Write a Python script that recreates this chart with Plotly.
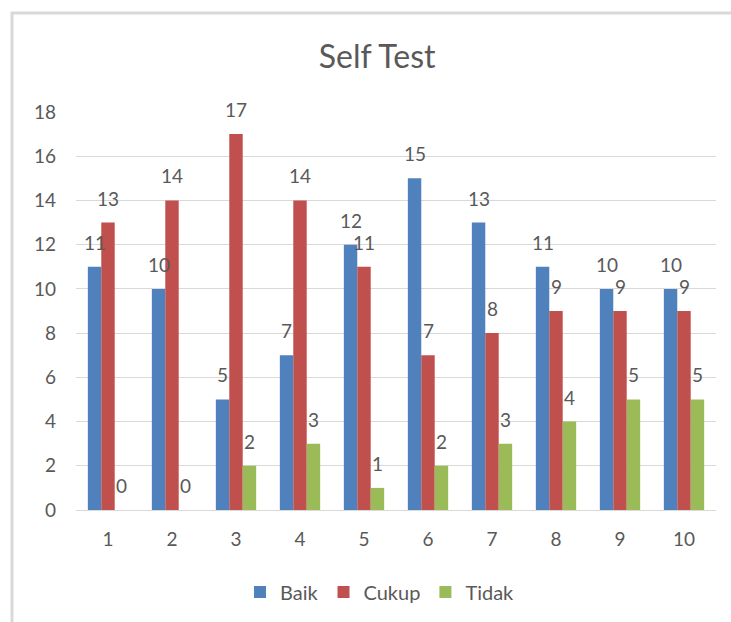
import plotly.graph_objects as go

# Self-test results per item
categories = ["1", "2", "3", "4", "5", "6", "7", "8", "9", "10"]
baik = [11, 10, 5, 7, 12, 15, 13, 11, 10, 10]
cukup = [13, 14, 17, 14, 11, 7, 8, 9, 9, 9]
tidak = [0, 0, 2, 3, 1, 2, 3, 4, 5, 5]

series = [
    ("Baik", baik, "#4F81BD"),
    ("Cukup", cukup, "#C0504D"),
    ("Tidak", tidak, "#9BBB59"),
]

FONT = "Lato, Open Sans, sans-serif"
GREY = "#595959"

W, H = 731, 622
L, R, T, B = 76, 15, 112, 112
pw, ph = W - L - R, H - T - B
BARGAP = 0.37
# pixel width of one bar inside a group of three
bar_px = pw / len(categories) * (1 - BARGAP) / len(series)


def px_x(x):
    return (x - L) / pw


def px_y(y):
    return (H - B - y) / ph


fig = go.Figure()
annotations = []
for i, (name, vals, color) in enumerate(series):
    fig.add_trace(go.Bar(
        name=name,
        x=categories,
        y=vals,
        marker=dict(color=color, line=dict(width=0)),
    ))
    # value labels sitting above each bar (x given as category index)
    for j, v in enumerate(vals):
        annotations.append(dict(
            x=j,
            y=v,
            xref="x",
            yref="y",
            text=str(v),
            showarrow=False,
            xanchor="center",
            yanchor="bottom",
            xshift=(i - 1) * bar_px,
            yshift=11,
            font=dict(family=FONT, size=19, color=GREY),
        ))

fig.update_layout(
    width=W,
    height=H,
    margin=dict(l=L, r=R, t=T, b=B, autoexpand=False),
    paper_bgcolor="white",
    plot_bgcolor="white",
    barmode="group",
    bargap=BARGAP,
    bargroupgap=0,
    font=dict(family=FONT, color=GREY),
    title=dict(
        text="Self Test",
        x=0.516,
        xanchor="center",
        y=1 - 57 / H,
        yanchor="middle",
        font=dict(family=FONT, size=32, color=GREY),
    ),
    xaxis=dict(
        type="category",
        range=[-0.5, len(categories) - 0.5],
        showgrid=False,
        showline=True,
        linecolor="#d9d9d9",
        linewidth=1,
        ticks="",
        tickfont=dict(family=FONT, size=19, color=GREY),
        ticklabelstandoff=12,
    ),
    yaxis=dict(
        range=[0, 18],
        dtick=2,
        showgrid=True,
        gridcolor="#d9d9d9",
        gridwidth=1,
        zeroline=False,
        showline=False,
        ticks="",
        tickfont=dict(family=FONT, size=19, color=GREY),
        ticklabelstandoff=19,
    ),
    legend=dict(
        orientation="h",
        x=0.475,
        xanchor="center",
        y=px_y(592),
        yanchor="middle",
        font=dict(family=FONT, size=20, color=GREY),
        itemwidth=30,
        traceorder="normal",
    ),
    annotations=annotations,
    shapes=[
        dict(
            type="rect",
            xref="paper",
            yref="paper",
            x0=px_x(12),
            y0=px_y(640),
            x1=px_x(760),
            y1=px_y(13),
            line=dict(color="#d9d9d9", width=3),
            fillcolor="rgba(0,0,0,0)",
            layer="below",
        )
    ],
)

fig.write_html("out.html")
